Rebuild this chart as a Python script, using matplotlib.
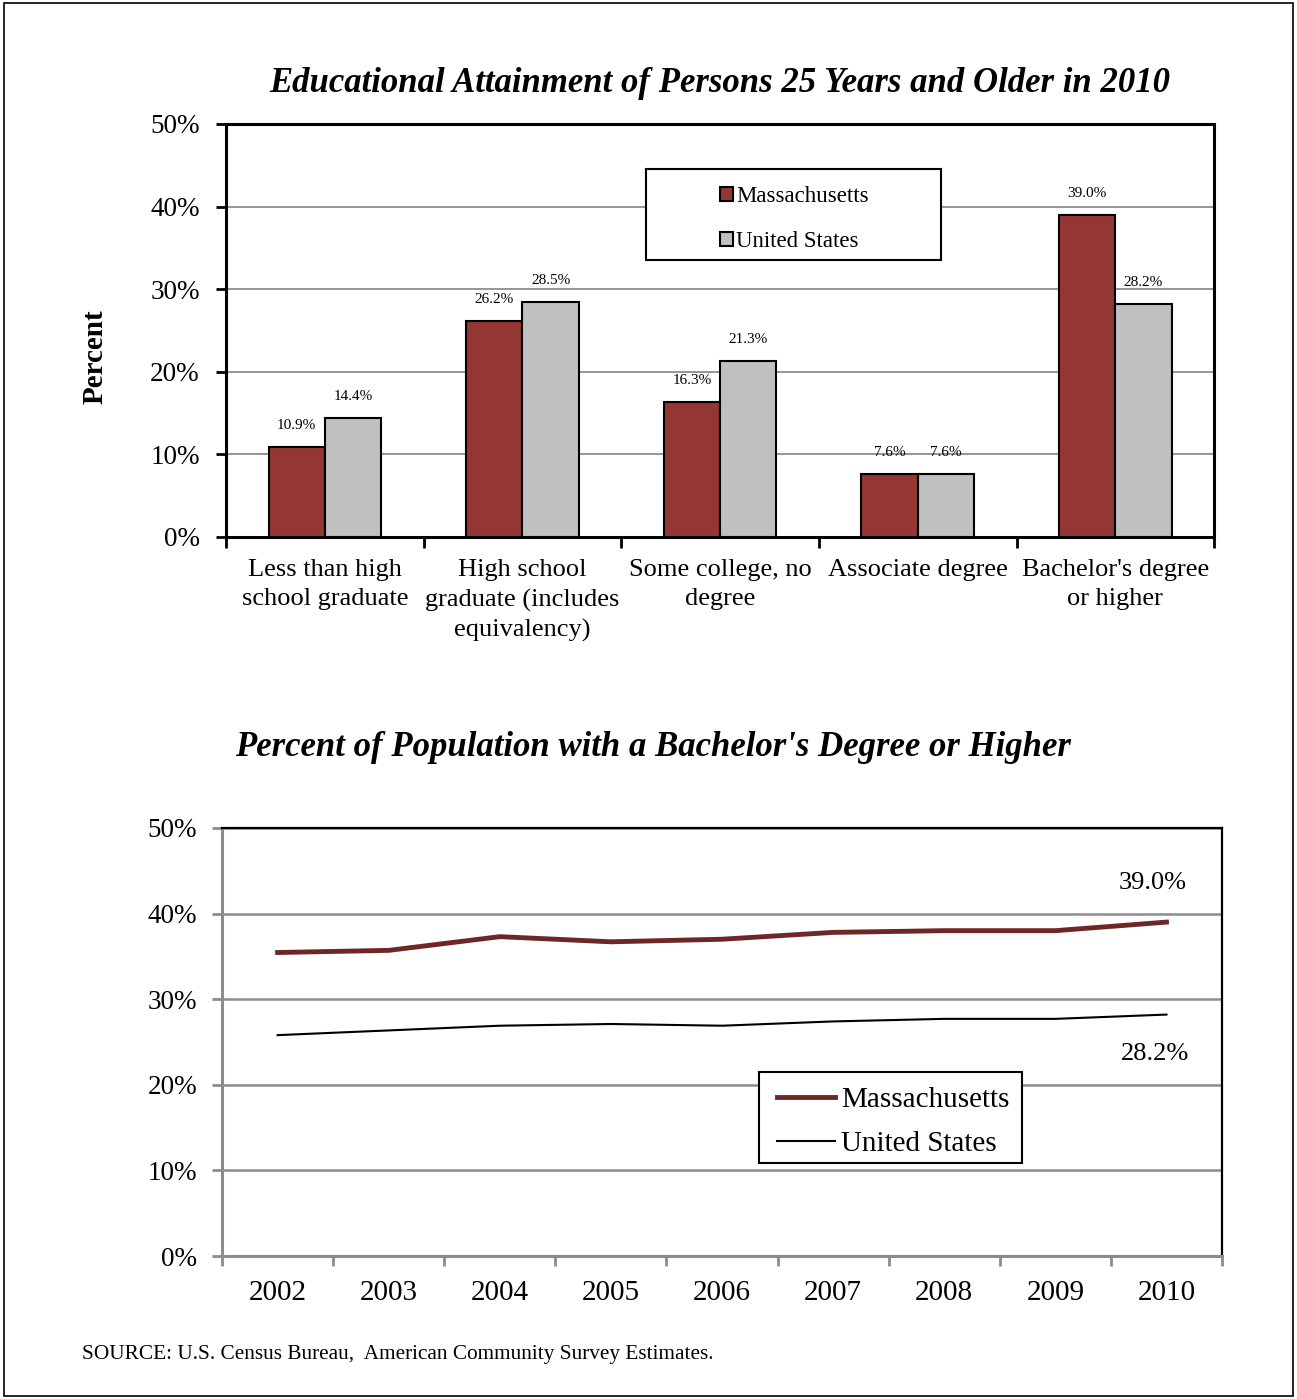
import numpy as np
import matplotlib.pyplot as plt
from matplotlib.patches import Rectangle
from matplotlib.ticker import FixedLocator, PercentFormatter

plt.rcParams['font.family'] = ['Liberation Serif', 'DejaVu Serif']

# top chart data
categories = ["Less than high\nschool graduate", "High school\ngraduate (includes\nequivalency)",
              "Some college, no\ndegree", "Associate degree", "Bachelor's degree\nor higher"]
ma_share = [10.9, 26.2, 16.3, 7.6, 39.0]
us_share = [14.4, 28.5, 21.3, 7.6, 28.2]

# bottom chart data
years = ["2002", "2003", "2004", "2005", "2006", "2007", "2008", "2009", "2010"]
ma_bach = [35.45, 35.7, 37.3, 36.7, 37.0, 37.8, 38.0, 38.0, 39.0]
us_bach = [25.8, 26.35, 26.9, 27.1, 26.9, 27.4, 27.7, 27.7, 28.2]

MA_COLOR = "#943634"
US_COLOR = "#C0C0C0"
LINE_MA = "#6E2626"
GRID = "#8C8C8C"

fig = plt.figure(figsize=(12.97, 13.99), dpi=100)
fig.patches.append(Rectangle((0.003, 0.002), 0.994, 0.996, transform=fig.transFigure,
                             fill=False, edgecolor="black", linewidth=1.2))

# ---- bar chart ----
ax = fig.add_axes([0.1743, 0.6162, 0.7618, 0.2952])
x = np.arange(len(categories))
w = 0.285
b1 = ax.bar(x - w / 2, ma_share, w, color=MA_COLOR, edgecolor="black", linewidth=1.5,
            label="Massachusetts", zorder=3)
b2 = ax.bar(x + w / 2, us_share, w, color=US_COLOR, edgecolor="black", linewidth=1.5,
            label="United States", zorder=3)
for bars, vals in ((b1, ma_share), (b2, us_share)):
    for r, v in zip(bars, vals):
        ax.text(r.get_x() + r.get_width() / 2, v + 1.8, f"{v:.1f}%", ha="center",
                va="bottom", fontsize=11)

ax.set_xlim(-0.5, len(categories) - 0.5)
ax.set_ylim(0, 50)
ax.set_yticks(np.arange(0, 51, 10))
ax.yaxis.set_major_formatter(PercentFormatter(decimals=0))
ax.yaxis.grid(True, color=GRID, linewidth=1.3, zorder=0)
ax.set_xticks(x)
ax.set_xticklabels(categories, fontsize=19, linespacing=1.42)
ax.xaxis.set_minor_locator(FixedLocator(np.arange(-0.5, len(categories), 1)))
ax.tick_params(axis="x", which="major", length=0, pad=16)
ax.tick_params(axis="x", which="minor", length=8, width=2, direction="out")
ax.tick_params(axis="y", labelsize=19.5, length=7, width=2, pad=12)
for s in ax.spines.values():
    s.set_linewidth(2.2)
ax.set_ylabel("Percent", fontsize=21, fontweight="bold")
ax.yaxis.set_label_coords(-0.119, 0.436)
ax.set_title("Educational Attainment of Persons 25 Years and Older in 2010",
             fontsize=25, fontweight="bold", style="italic", pad=23)

ax.add_patch(Rectangle((0.425, 0.671), 0.2987, 0.22, transform=ax.transAxes,
                       facecolor="white", edgecolor="black", linewidth=1.5, zorder=4))
leg = ax.legend(loc="upper left", bbox_to_anchor=(0.5, 0.850), fontsize=16.5,
                handlelength=0.55, handleheight=0.55, handletextpad=0.15,
                borderpad=0, labelspacing=1.06, frameon=False, borderaxespad=0)
leg.set_zorder(5)

# ---- line chart ----
ax2 = fig.add_axes([0.1712, 0.1022, 0.771, 0.306])
xi = np.arange(len(years))
ax2.plot(xi, ma_bach, color=LINE_MA, linewidth=3.5, label="Massachusetts", zorder=3)
ax2.plot(xi, us_bach, color="black", linewidth=1.5, label="United States", zorder=3)
ax2.text(xi[-1] - 0.12, ma_bach[-1] + 3.3, f"{ma_bach[-1]:.1f}%", ha="center",
         va="bottom", fontsize=19)
ax2.text(xi[-1] - 0.1, us_bach[-1] - 3.3, f"{us_bach[-1]:.1f}%", ha="center",
         va="top", fontsize=19)
ax2.set_xlim(-0.5, len(years) - 0.5)
ax2.set_ylim(0, 50)
ax2.set_yticks(np.arange(0, 51, 10))
ax2.yaxis.set_major_formatter(PercentFormatter(decimals=0))
ax2.yaxis.grid(True, color=GRID, linewidth=1.8, zorder=0)
ax2.set_xticks(xi)
ax2.set_xticklabels(years, fontsize=21)
ax2.xaxis.set_minor_locator(FixedLocator(np.arange(-0.5, len(years), 1)))
ax2.tick_params(axis="x", which="major", length=0, pad=17)
ax2.tick_params(axis="x", which="minor", length=7, width=2, color=GRID)
ax2.tick_params(axis="y", labelsize=19.5, length=7, width=2, color=GRID, pad=11)
for side in ("left", "bottom"):
    ax2.spines[side].set_color(GRID)
    ax2.spines[side].set_linewidth(2.2)
for side in ("top", "right"):
    ax2.spines[side].set_linewidth(1.6)
ax2.add_patch(Rectangle((0.537, 0.217), 0.263, 0.213, transform=ax2.transAxes,
                        facecolor="white", edgecolor="black", linewidth=1.5, zorder=4))
leg2 = ax2.legend(loc="upper left", bbox_to_anchor=(0.555, 0.395), fontsize=21,
                  handlelength=2.0, handletextpad=0.2, borderpad=0,
                  labelspacing=0.6, frameon=False, borderaxespad=0)
leg2.set_zorder(5)

fig.text(653 / 1297, 1 - 747 / 1399, "Percent of Population with a Bachelor's Degree or Higher",
         ha="center", va="center", fontsize=25, fontweight="bold", style="italic")
fig.text(82 / 1297, 1 - 1354 / 1399,
         "SOURCE: U.S. Census Bureau,  American Community Survey Estimates.",
         ha="left", va="center", fontsize=15.3)

fig.savefig("out.png", dpi=100)
